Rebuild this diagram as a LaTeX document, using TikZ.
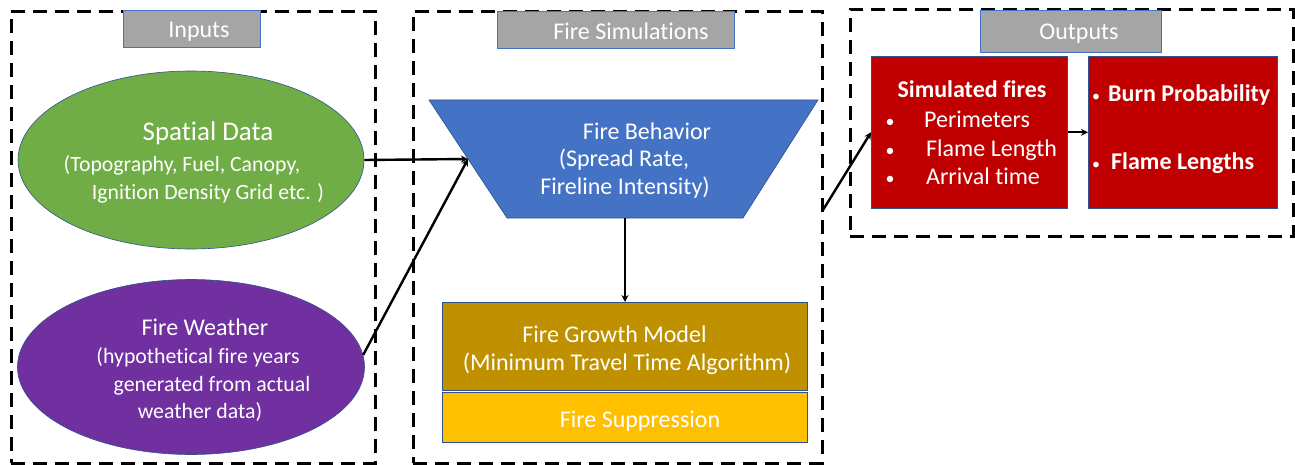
\documentclass[tikz,border=0pt]{standalone}
\usepackage{fontspec}
\setmainfont{Carlito}[Ligatures={NoCommon}]
\usetikzlibrary{arrows.meta,shapes.geometric,calc}

\definecolor{lblgray}{HTML}{A5A5A5}
\definecolor{edgeblue}{HTML}{4472C4}
\definecolor{darkedge}{HTML}{2F528F}
\definecolor{spatialgreen}{HTML}{70AD47}
\definecolor{weatherpurple}{HTML}{7030A0}
\definecolor{behavblue}{HTML}{4472C4}
\definecolor{growthgold}{HTML}{BF9000}
\definecolor{suppyellow}{HTML}{FFC000}
\definecolor{outred}{HTML}{C00000}

\begin{document}
\begin{tikzpicture}[x=1pt,y=-1pt,
  group/.style={draw=black, line width=2.9pt, dash pattern=on 14pt off 8pt,
    minimum width=#1, inner sep=0pt, anchor=north west},
  grouplabel/.style={draw=edgeblue, line width=0.8pt, fill=lblgray,
    inner sep=0pt, anchor=north west},
  blob/.style={ellipse, draw=darkedge, line width=0.6pt, inner sep=0pt},
  panel/.style={draw=darkedge, line width=0.6pt, inner sep=0pt, anchor=north west},
  wtxt/.style={text=white, inner sep=0pt, anchor=base},
  big/.style={font=\fontsize{24}{29}\selectfont},
  mid/.style={font=\fontsize{21.8}{26}\selectfont},
  conn/.style={draw=black, line width=2.4pt, -{Stealth[length=7pt,width=7pt]}},
]
\useasboundingbox (0,0) rectangle (1295,465);

% ---- dashed group frames ----
\node[group=364pt, minimum height=452pt] (inframe) at (10,10) {};
\node[group=409pt, minimum height=452pt] (simframe) at (412,10) {};
\node[group=443pt, minimum height=227pt] (outframe) at (849,8) {};

% ---- group titles ----
\node[grouplabel, minimum width=137pt, minimum height=37pt] (inlbl) at (123,10) {};
\node[wtxt, big] (inlbltxt) at (199,38) {Inputs};
\node[grouplabel, minimum width=237pt, minimum height=37pt] (simlbl) at (497,11) {};
\node[wtxt, big] (simlbltxt) at (631,40) {Fire Simulations};
\node[grouplabel, minimum width=181pt, minimum height=42pt] (outlbl) at (980,10) {};
\node[wtxt, big] (outlbltxt) at (1079,40) {Outputs};

% ---- inputs ----
\node[blob, fill=spatialgreen, minimum width=346pt, minimum height=178pt] (spatial) at (191,160) {};
\node[wtxt, font=\fontsize{27}{32}\selectfont] (sp1) at (208,141) {Spatial Data};
\node[wtxt, mid] (sp2) at (182,172) {(Topography, Fuel, Canopy,};
\node[wtxt, mid] (sp3) at (208,200) {Ignition Density Grid etc. )};

\node[blob, fill=weatherpurple, minimum width=347pt, minimum height=175pt] (weather) at (191,367) {};
\node[wtxt, big] (fw1) at (205,335) {Fire Weather};
\node[wtxt, mid] (fw2) at (198,363) {(hypothetical fire years};
\node[wtxt, mid] (fw3) at (212,391) {generated from actual};
\node[wtxt, mid] (fw4) at (200,418) {weather data)};

% ---- fire simulations ----
\coordinate (btl) at (429,100);
\coordinate (btr) at (818,100);
\coordinate (bbr) at (743,218);
\coordinate (bbl) at (507,218);
\filldraw[draw=darkedge, line width=0.6pt, fill=behavblue]
  (btl) -- (btr) -- (bbr) -- (bbl) -- cycle;
\coordinate (behavW) at ($(btl)!0.5!(bbl)$);
\coordinate (behavS) at (625,218);
\node[wtxt, big] (fb1) at (647,140) {Fire Behavior};
\node[wtxt, big] (fb2) at (624,167) {(Spread Rate,};
\node[wtxt, big] (fb3) at (625,195) {Fireline Intensity)};

\node[panel, fill=growthgold, minimum width=365pt, minimum height=88pt] (growth) at (442,302) {};
\node[wtxt, big] (gm1) at (614.5,342) {Fire Growth Model};
\node[wtxt, big] (gm2) at (627,370) {(Minimum Travel Time Algorithm)};

\node[panel, fill=suppyellow, minimum width=365pt, minimum height=50pt] (supp) at (442,392) {};
\node[wtxt, big] (sup1) at (640,427) {Fire Suppression};

% ---- outputs ----
\node[panel, fill=outred, minimum width=196pt, minimum height=152pt] (simfires) at (871,56) {};
\node[wtxt, font=\fontsize{24}{29}\bfseries\selectfont] (sf0) at (972,98) {Simulated fires};
\foreach \yy/\xx/\tt [count=\i] in {128/924/Perimeters, 157/926/Flame Length, 185/926/Arrival time}{
  \node[wtxt, anchor=base, font=\fontsize{18}{22}\selectfont] (sfb\i) at (890,\yy) {\textbullet};
  \node[wtxt, anchor=base west, big] (sf\i) at (\xx,\yy) {\tt};
}

\node[panel, fill=outred, minimum width=189pt, minimum height=152pt] (burn) at (1088,56) {};
\node[wtxt, anchor=base, font=\fontsize{16}{20}\selectfont] (bpb) at (1096,102) {\textbullet};
\node[wtxt, anchor=base west, font=\fontsize{24}{29}\bfseries\selectfont] (bp) at (1108,102) {Burn Probability};
\node[wtxt, anchor=base, font=\fontsize{16}{20}\selectfont] (flb) at (1096,170) {\textbullet};
\node[wtxt, anchor=base west, font=\fontsize{24}{29}\bfseries\selectfont] (fl) at (1111,170) {Flame Lengths};

% ---- connectors ----
\coordinate (simout) at (823,210);
\draw[conn] (spatial.east) -- (behavW);
\draw[conn] (weather.4) -- (behavW);
\draw[conn] (behavS) -- (growth.north -| behavS);
\draw[conn] (simout) -- (simfires.west);
\draw[conn] (simfires.east) -- (burn.west);
\end{tikzpicture}
\end{document}
